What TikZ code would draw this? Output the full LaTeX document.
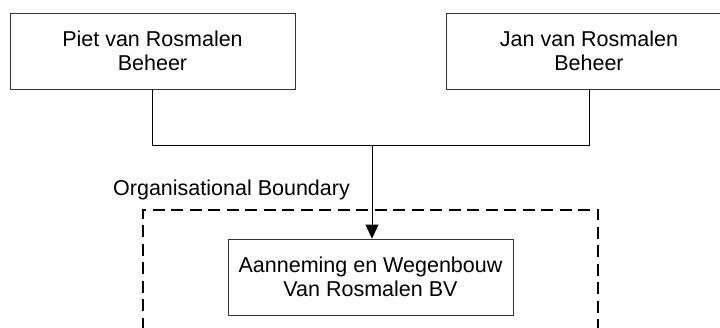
\documentclass[tikz,border=0pt]{standalone}
\usepackage{fontspec}
\setmainfont{Liberation Sans}
\usetikzlibrary{arrows.meta}

\begin{document}
\begin{tikzpicture}[x=1pt,y=1pt,yscale=-1,xscale=1,
  entity/.style={draw=black!80, line width=0.8pt, minimum width=285pt, minimum height=76pt,
    inner sep=0pt, align=center, font=\fontsize{21.5}{24.3}\selectfont},
  link/.style={draw=black, line width=0.9pt},
  boundary/.style={draw=black, line width=1.5pt, dash pattern=on 12pt off 6.5pt}]
%set diagram left start at 0, and has height of 328
\useasboundingbox (0,0) rectangle (720,328);

%Shape: Rectangle
\node [entity] (piet) at (152.5,51) {Piet van Rosmalen\\Beheer};
%Shape: Rectangle
\node [entity] (jan) at (589,51) {Jan van Rosmalen\\Beheer};
%Shape: Rectangle
\node [entity] (avr) at (370.5,277) {Aanneming en Wegenbouw\\Van Rosmalen BV};

%Dashed Lines
\draw [boundary] (143,330) -- (143,210) -- (598,210) -- (598,330) ;

%Straight Lines
\coordinate (join) at (372,145);
\draw [link] (piet.south) |- (join) ;
\draw [link] (jan.south) |- (join) ;
\draw [link,-{Triangle[length=14pt,width=13pt]}] (join) -- (join |- avr.north) ;

% Text Node
\node [anchor=base west, inner sep=0pt, font=\fontsize{21.5}{24}\selectfont] (lbl) at (113,196) {Organisational Boundary};

\end{tikzpicture}
\end{document}
